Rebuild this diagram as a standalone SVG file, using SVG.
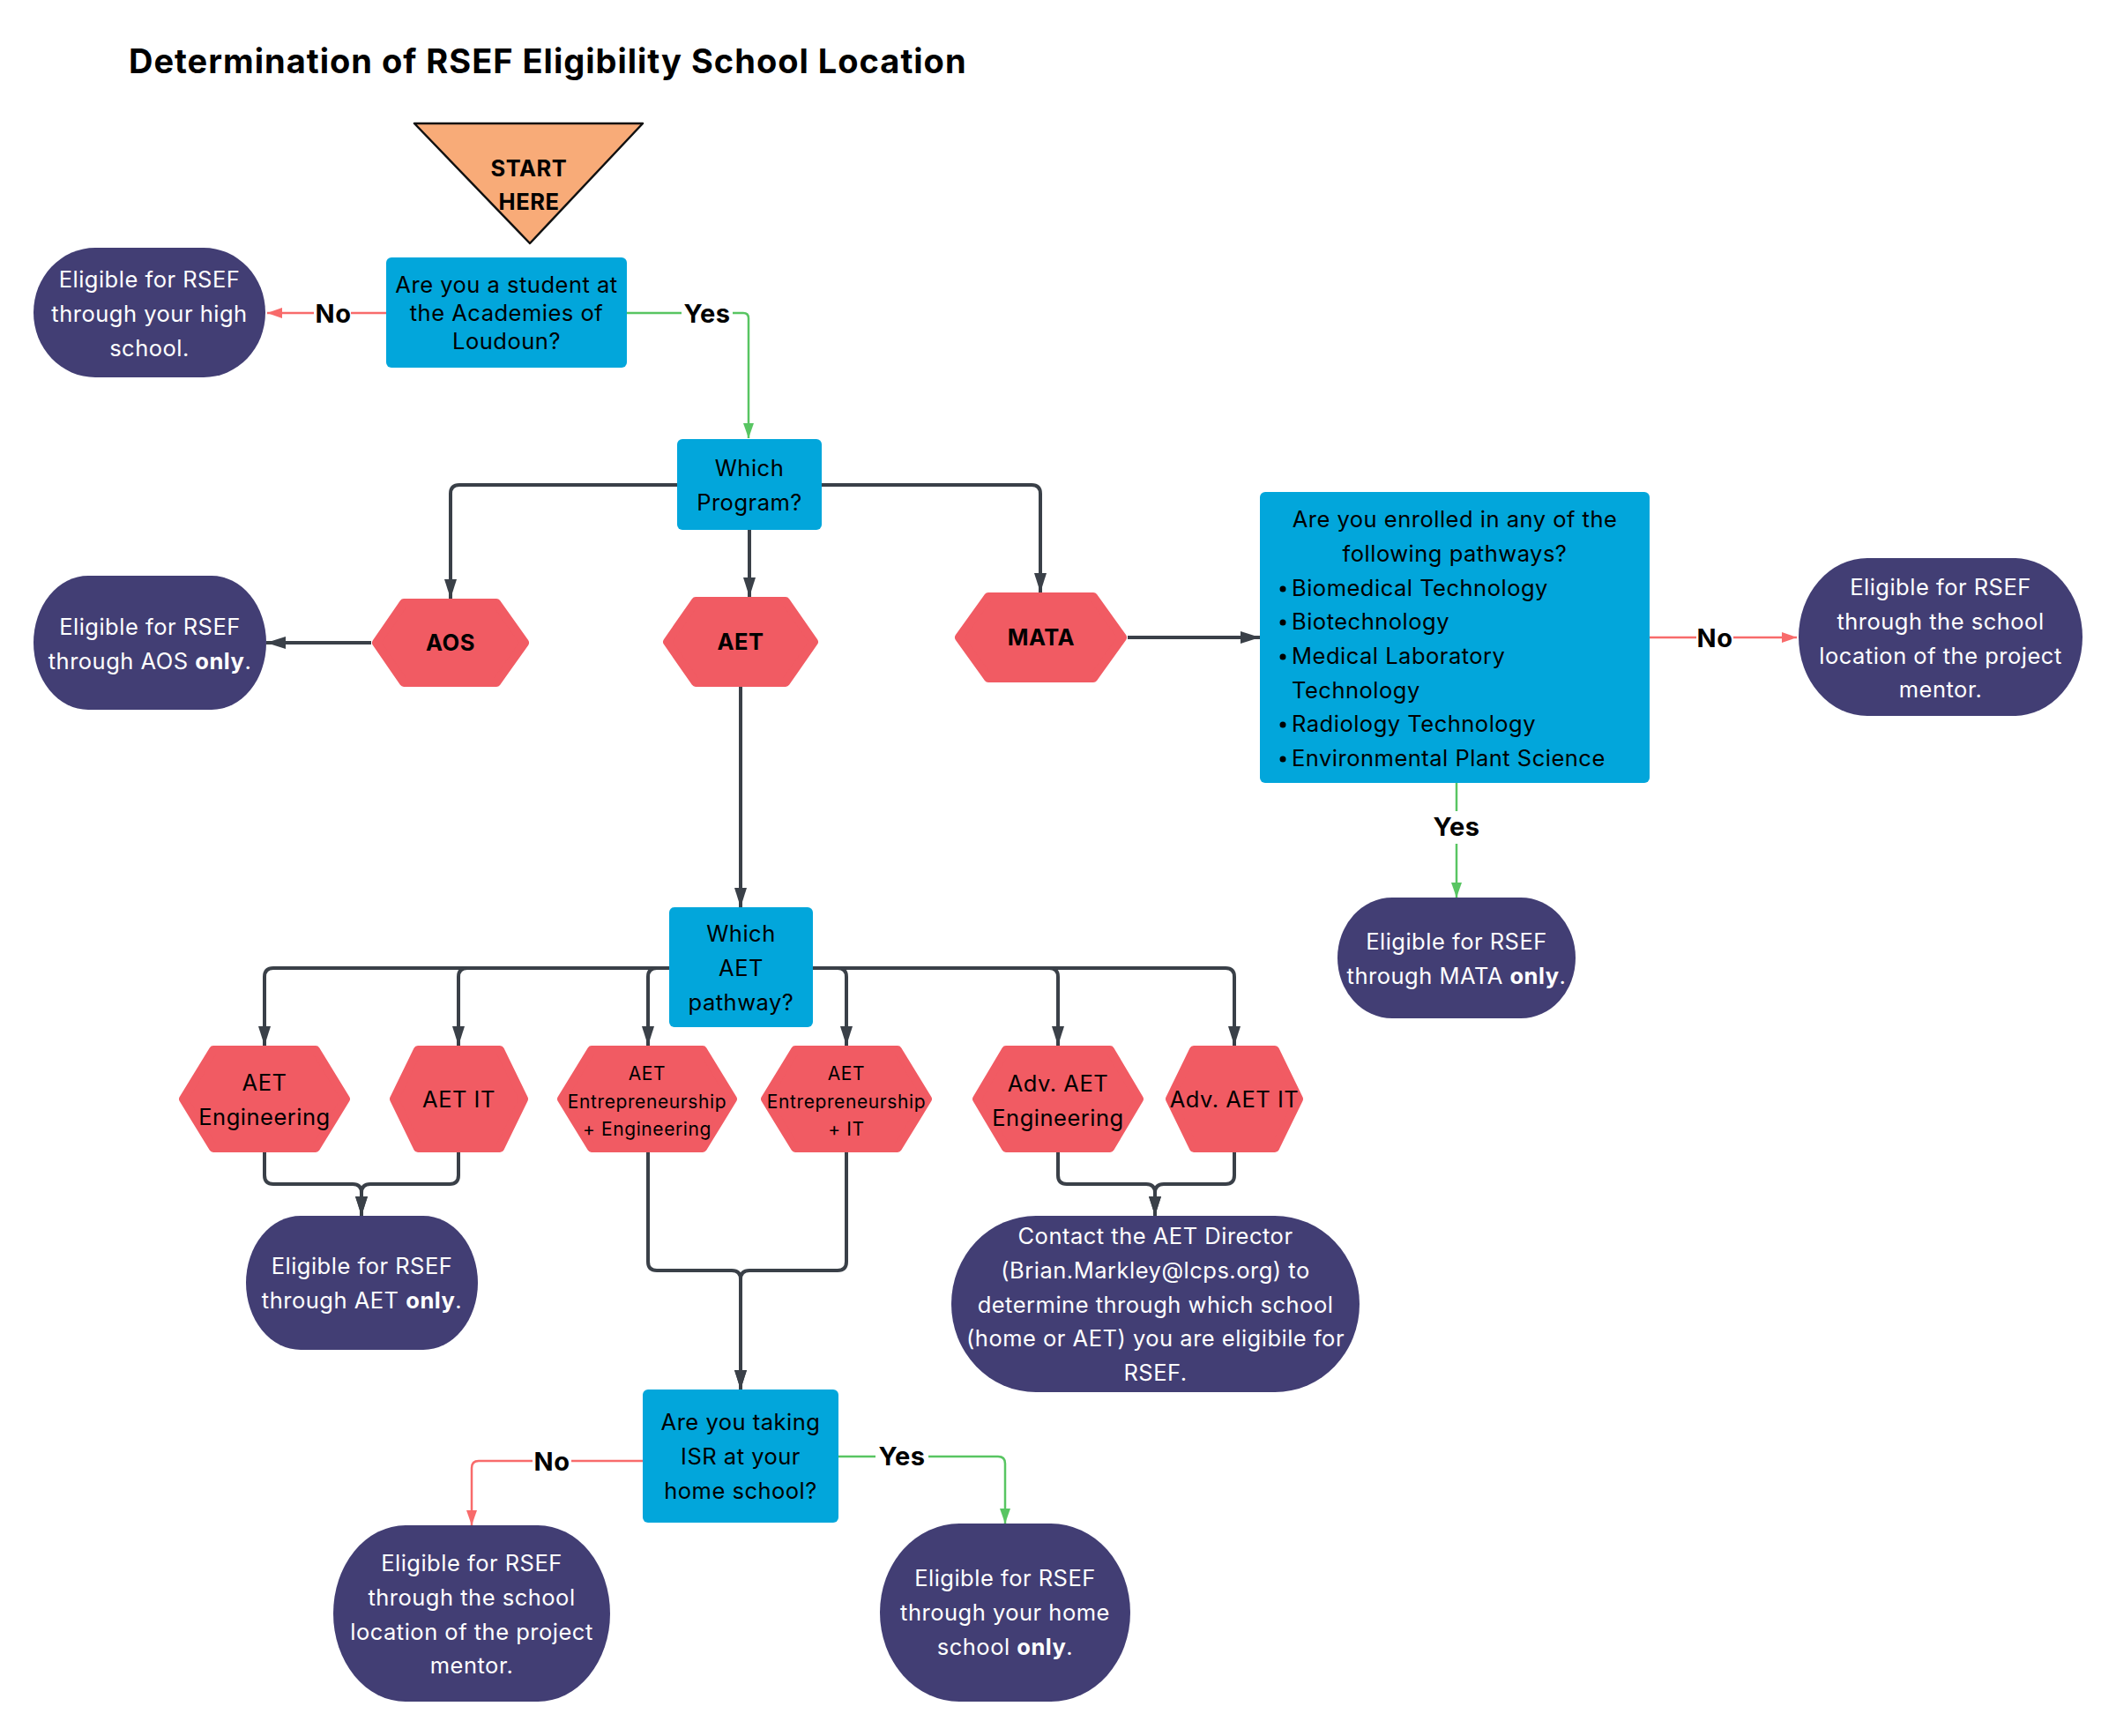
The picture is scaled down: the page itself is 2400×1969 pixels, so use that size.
<svg xmlns="http://www.w3.org/2000/svg" width="2400" height="1969" viewBox="0 0 2400 1969">
<defs>
<style>
text{font-family:Inter,"Noto Sans","Liberation Sans",sans-serif;letter-spacing:0.5px;}
.t{font-size:25.5px;fill:#000;text-anchor:middle;}
.tb{font-size:25.5px;fill:#000;text-anchor:middle;font-weight:bold;}
.ts{font-size:21px;fill:#000;text-anchor:middle;letter-spacing:0.6px;}
.tw{font-size:25.5px;fill:#fff;text-anchor:middle;}
.tl{font-size:25.5px;fill:#000;}
.box{fill:#02A6DB;}
.hex{fill:#F15B63;stroke:#F15B63;stroke-width:10;stroke-linejoin:round;}
.term{fill:#423E74;}
.dk{fill:none;stroke:#3A4048;stroke-width:4;}
.rd{fill:none;stroke:#F86B6B;stroke-width:2.5;}
.gr{fill:none;stroke:#58C562;stroke-width:2.5;}
.lbl{font-size:29px;font-weight:bold;fill:#000;text-anchor:middle;}
.bg{fill:#fff;}
</style>
<marker id="ad" markerUnits="userSpaceOnUse" markerWidth="24" markerHeight="16" refX="22" refY="7" orient="auto"><path d="M0,0 L22,7 L0,14 Z" fill="#3A4048"/></marker>
<marker id="ar" markerUnits="userSpaceOnUse" markerWidth="20" markerHeight="14" refX="17" refY="6" orient="auto"><path d="M0,0 L17,6 L0,12 Z" fill="#F86B6B"/></marker>
<marker id="ag" markerUnits="userSpaceOnUse" markerWidth="20" markerHeight="14" refX="17" refY="6" orient="auto"><path d="M0,0 L17,6 L0,12 Z" fill="#58C562"/></marker>
</defs>
<rect width="2400" height="1969" fill="#fff"/>
<text x="146" y="83" style="font-size:38px;font-weight:bold;fill:#000;letter-spacing:1px;">Determination of RSEF Eligibility School Location</text>

<g id="connectors">
<path class="rd" d="M438,355 H303" marker-end="url(#ar)"/>
<rect class="bg" x="356" y="336" width="42" height="36"/>
<text class="lbl" x="378" y="366">No</text>
<path class="gr" d="M711,355 H843 Q849,355 849,361 V497" marker-end="url(#ag)"/>
<rect class="bg" x="773" y="336" width="58" height="36"/>
<text class="lbl" x="802" y="366">Yes</text>
<path class="dk" d="M768,550 H521 Q511,550 511,560 V679" marker-end="url(#ad)"/>
<path class="dk" d="M850,601 V677" marker-end="url(#ad)"/>
<path class="dk" d="M932,550 H1170 Q1180,550 1180,560 V672" marker-end="url(#ad)"/>
<path class="dk" d="M421,729 H302" marker-end="url(#ad)"/>
<path class="dk" d="M1279,723 H1429" marker-end="url(#ad)"/>
<path class="rd" d="M1871,723 H2038" marker-end="url(#ar)"/>
<rect class="bg" x="1924" y="704" width="42" height="36"/>
<text class="lbl" x="1945" y="734">No</text>
<path class="gr" d="M1652,888 V1018" marker-end="url(#ag)"/>
<rect class="bg" x="1622" y="920" width="60" height="37"/>
<text class="lbl" x="1652" y="948">Yes</text>
<path class="dk" d="M840,779 V1029" marker-end="url(#ad)"/>
<path class="dk" d="M759,1098 H310 Q300,1098 300,1108 V1186" marker-end="url(#ad)"/>
<path class="dk" d="M759,1098 H530 Q520,1098 520,1108 V1186" marker-end="url(#ad)"/>
<path class="dk" d="M759,1098 H745 Q735,1098 735,1108 V1186" marker-end="url(#ad)"/>
<path class="dk" d="M922,1098 H950 Q960,1098 960,1108 V1186" marker-end="url(#ad)"/>
<path class="dk" d="M922,1098 H1190 Q1200,1098 1200,1108 V1186" marker-end="url(#ad)"/>
<path class="dk" d="M922,1098 H1390 Q1400,1098 1400,1108 V1186" marker-end="url(#ad)"/>
<path class="dk" d="M300,1307 V1333 Q300,1343 310,1343 H400 Q410,1343 410,1353 V1379" marker-end="url(#ad)"/>
<path class="dk" d="M520,1307 V1333 Q520,1343 510,1343 H420 Q410,1343 410,1353 V1379" marker-end="url(#ad)"/>
<path class="dk" d="M735,1307 V1431 Q735,1441 745,1441 H830 Q840,1441 840,1451 V1576" marker-end="url(#ad)"/>
<path class="dk" d="M960,1307 V1431 Q960,1441 950,1441 H850 Q840,1441 840,1451 V1576" marker-end="url(#ad)"/>
<path class="dk" d="M1200,1307 V1333 Q1200,1343 1210,1343 H1300 Q1310,1343 1310,1353 V1379" marker-end="url(#ad)"/>
<path class="dk" d="M1400,1307 V1333 Q1400,1343 1390,1343 H1320 Q1310,1343 1310,1353 V1379" marker-end="url(#ad)"/>
<path class="rd" d="M729,1657 H543 Q535,1657 535,1665 V1730" marker-end="url(#ar)"/>
<rect class="bg" x="604" y="1638" width="44" height="36"/>
<text class="lbl" x="626" y="1668">No</text>
<path class="gr" d="M951,1652 H1132 Q1140,1652 1140,1660 V1728" marker-end="url(#ag)"/>
<rect class="bg" x="993" y="1633" width="60" height="36"/>
<text class="lbl" x="1023" y="1662">Yes</text>
</g>

<g id="start">
<path d="M470,140 H729 L601,276 Z" fill="#F8AB78" stroke="#111" stroke-width="2.5" stroke-linejoin="round"/>
<text class="tb" x="600" y="200">START</text>
<text class="tb" x="600" y="238">HERE</text>
</g>

<g id="q-academies">
<rect class="box" x="438" y="292" width="273" height="125" rx="6"/>
<text class="t" x="574.5" y="332">Are you a student at</text>
<text class="t" x="574.5" y="364">the Academies of</text>
<text class="t" x="574.5" y="396">Loudoun?</text>
</g>

<g id="end-highschool">
<rect class="term" x="38" y="281" width="263" height="147" rx="70" ry="73.5"/>
<text class="tw" x="169.5" y="326">Eligible for RSEF</text>
<text class="tw" x="169.5" y="365">through your high</text>
<text class="tw" x="169.5" y="404">school.</text>
</g>

<g id="q-program">
<rect class="box" x="768" y="498" width="164" height="103" rx="6"/>
<text class="t" x="850" y="540">Which</text>
<text class="t" x="850" y="579">Program?</text>
</g>

<g id="hex-aos">
<polygon class="hex" points="427,729 458,684 563,684 595,729 563,774 458,774"/>
<text class="tb" x="511" y="738">AOS</text>
</g>

<g id="hex-aet">
<polygon class="hex" points="757,728 789,682 891,682 923,728 891,774 789,774"/>
<text class="tb" x="840" y="737">AET</text>
</g>

<g id="hex-mata">
<polygon class="hex" points="1088,723 1121,677 1240,677 1273,723 1240,769 1121,769"/>
<text class="tb" x="1181" y="732">MATA</text>
</g>

<g id="end-aos">
<rect class="term" x="38" y="653" width="264" height="152" rx="62" ry="76"/>
<text class="tw" x="170" y="720">Eligible for RSEF</text>
<text class="tw" x="170" y="759">through AOS <tspan font-weight="bold">only</tspan>.</text>
</g>

<g id="q-pathways">
<rect class="box" x="1429" y="558" width="442" height="330" rx="6"/>
<text class="t" x="1650" y="598">Are you enrolled in any of the</text>
<text class="t" x="1650" y="637">following pathways?</text>
<circle cx="1455" cy="668" r="3.5" fill="#000"/>
<text class="tl" x="1465" y="676">Biomedical Technology</text>
<circle cx="1455" cy="706" r="3.5" fill="#000"/>
<text class="tl" x="1465" y="714">Biotechnology</text>
<circle cx="1455" cy="745" r="3.5" fill="#000"/>
<text class="tl" x="1465" y="753">Medical Laboratory</text>
<text class="tl" x="1465" y="792">Technology</text>
<circle cx="1455" cy="822" r="3.5" fill="#000"/>
<text class="tl" x="1465" y="830">Radiology Technology</text>
<circle cx="1455" cy="861" r="3.5" fill="#000"/>
<text class="tl" x="1465" y="869">Environmental Plant Science</text>
</g>

<g id="end-mentor-mata">
<rect class="term" x="2040" y="633" width="322" height="179" rx="78" ry="89.5"/>
<text class="tw" x="2201" y="675">Eligible for RSEF</text>
<text class="tw" x="2201" y="714">through the school</text>
<text class="tw" x="2201" y="753">location of the project</text>
<text class="tw" x="2201" y="791">mentor.</text>
</g>

<g id="end-mata">
<rect class="term" x="1517" y="1018" width="270" height="137" rx="62" ry="68.5"/>
<text class="tw" x="1652" y="1077">Eligible for RSEF</text>
<text class="tw" x="1652" y="1116">through MATA <tspan font-weight="bold">only</tspan>.</text>
</g>

<g id="q-aet-pathway">
<rect class="box" x="759" y="1029" width="163" height="136" rx="6"/>
<text class="t" x="840.5" y="1068">Which</text>
<text class="t" x="840.5" y="1107">AET</text>
<text class="t" x="840.5" y="1146">pathway?</text>
</g>

<g id="hex-aet-eng">
<polygon class="hex" points="208,1246.5 242,1191 358,1191 392,1246.5 358,1302 242,1302"/>
<text class="t" x="300" y="1237">AET</text>
<text class="t" x="300" y="1276">Engineering</text>
</g>

<g id="hex-aet-it">
<polygon class="hex" points="447,1246.5 474,1191 567,1191 594,1246.5 567,1302 474,1302"/>
<text class="t" x="520.5" y="1256">AET IT</text>
</g>

<g id="hex-ent-eng">
<polygon class="hex" points="637,1246.5 671,1191 797,1191 831,1246.5 797,1302 671,1302"/>
<text class="ts" x="734" y="1225">AET</text>
<text class="ts" x="734" y="1257">Entrepreneurship</text>
<text class="ts" x="734" y="1288">+ Engineering</text>
</g>

<g id="hex-ent-it">
<polygon class="hex" points="868,1246.5 902,1191 1018,1191 1052,1246.5 1018,1302 902,1302"/>
<text class="ts" x="960" y="1225">AET</text>
<text class="ts" x="960" y="1257">Entrepreneurship</text>
<text class="ts" x="960" y="1288">+ IT</text>
</g>

<g id="hex-adv-eng">
<polygon class="hex" points="1108,1246.5 1141,1191 1259,1191 1292,1246.5 1259,1302 1141,1302"/>
<text class="t" x="1200" y="1238">Adv. AET</text>
<text class="t" x="1200" y="1277">Engineering</text>
</g>

<g id="hex-adv-it">
<polygon class="hex" points="1327,1246.5 1354,1191 1446,1191 1473,1246.5 1446,1302 1354,1302"/>
<text class="t" x="1400" y="1256">Adv. AET IT</text>
</g>

<g id="end-aet">
<rect class="term" x="279" y="1379" width="263" height="152" rx="62" ry="76"/>
<text class="tw" x="410.5" y="1445">Eligible for RSEF</text>
<text class="tw" x="410.5" y="1484">through AET <tspan font-weight="bold">only</tspan>.</text>
</g>

<g id="end-contact">
<rect class="term" x="1079" y="1379" width="463" height="200" rx="96" ry="100"/>
<text class="tw" x="1310.5" y="1411">Contact the AET Director</text>
<text class="tw" x="1310.5" y="1450">(Brian.Markley@lcps.org) to</text>
<text class="tw" x="1310.5" y="1489">determine through which school</text>
<text class="tw" x="1310.5" y="1527">(home or AET) you are eligibile for</text>
<text class="tw" x="1310.5" y="1566">RSEF.</text>
</g>

<g id="q-isr">
<rect class="box" x="729" y="1576" width="222" height="151" rx="6"/>
<text class="t" x="840" y="1622">Are you taking</text>
<text class="t" x="840" y="1661">ISR at your</text>
<text class="t" x="840" y="1700">home school?</text>
</g>

<g id="end-mentor">
<rect class="term" x="378" y="1730" width="314" height="200" rx="82" ry="100"/>
<text class="tw" x="535" y="1782">Eligible for RSEF</text>
<text class="tw" x="535" y="1821">through the school</text>
<text class="tw" x="535" y="1860">location of the project</text>
<text class="tw" x="535" y="1898">mentor.</text>
</g>

<g id="end-home">
<rect class="term" x="998" y="1728" width="284" height="202" rx="90" ry="101"/>
<text class="tw" x="1140" y="1799">Eligible for RSEF</text>
<text class="tw" x="1140" y="1838">through your home</text>
<text class="tw" x="1140" y="1877">school <tspan font-weight="bold">only</tspan>.</text>
</g>
</svg>
